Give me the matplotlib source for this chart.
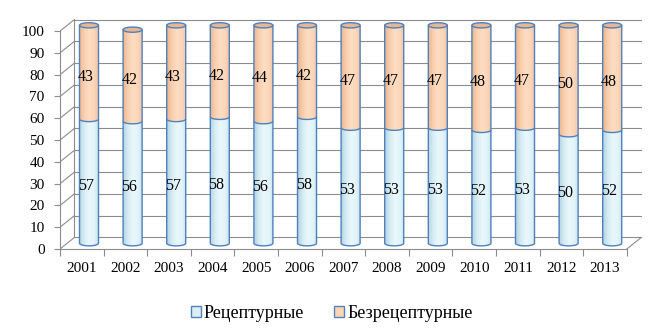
import numpy as np
import matplotlib
matplotlib.use('Agg')
import matplotlib.pyplot as plt
from matplotlib.path import Path
from matplotlib.patches import PathPatch, Ellipse, Patch
from matplotlib.colors import LinearSegmentedColormap

# ---- data ----
years = ['2001', '2002', '2003', '2004', '2005', '2006', '2007',
         '2008', '2009', '2010', '2011', '2012', '2013']
rx_values = [57, 56, 57, 58, 56, 58, 53, 53, 53, 52, 53, 50, 52]     # Рецептурные
otc_values = [43, 42, 43, 42, 44, 42, 47, 47, 47, 48, 47, 50, 48]    # Безрецептурные
series_names = ['Рецептурные', 'Безрецептурные']
y_ticks = [0, 10, 20, 30, 40, 50, 60, 70, 80, 90, 100]

# ---- style ----
FONT = 'Liberation Serif'
GRID = '#8C8C8C'
EDGE = '#4F81BD'
DX, DY = 0.33, 5.3        # depth offset of back wall (category units, value units)
RX, RY = 0.218, 1.2       # cylinder radii
blue_cmap = LinearSegmentedColormap.from_list(
    'b', ['#B3D3E3', '#D6ECF4', '#EAF8FC', '#E2F4FA', '#C6E2ED'])
orange_cmap = LinearSegmentedColormap.from_list(
    'o', ['#EDB58C', '#F8CFAF', '#FDDDC3', '#FBD7BA', '#F2C29F'])
blue_face = '#DBEEF4'
orange_face = '#FCD5B5'
cap_color = '#E8B690'

n = len(years)
fig = plt.figure(figsize=(6.58, 3.36), dpi=100)
ax = fig.add_axes([0.0912, 0.2589, 0.8846, 0.6875])
ax.set_xlim(-0.5, n - 0.5 + DX + 0.02)
ax.set_ylim(0, 106)

# ---- back wall, side wall and floor ----
x_left, x_right = -0.5, n - 0.5
for v in y_ticks:
    ax.plot([x_left + DX, x_right + DX], [v + DY, v + DY], color=GRID, lw=0.8, zorder=1)
    ax.plot([x_left, x_left + DX], [v, v + DY], color=GRID, lw=0.8, zorder=1)
ax.plot([x_left + DX, x_left + DX], [DY, y_ticks[-1] + DY], color=GRID, lw=0.8, zorder=1)
ax.plot([x_right, x_right + DX], [0, DY], color=GRID, lw=0.8, zorder=1)

# ---- cylinders ----
def segment(xc, b, t, cmap, z):
    x0, x1 = xc - RX, xc + RX
    th = np.linspace(np.pi, 2 * np.pi, 40)
    arc = np.column_stack([xc + RX * np.cos(th), b + RY * np.sin(th)])
    verts = np.vstack([[x0, t], arc, [x1, t], [x0, t]])
    codes = [Path.MOVETO] + [Path.LINETO] * (len(verts) - 2) + [Path.CLOSEPOLY]
    clip = PathPatch(Path(verts, codes), facecolor='none', edgecolor='none')
    ax.add_patch(clip)
    grad = np.linspace(0, 1, 256).reshape(1, -1)
    im = ax.imshow(grad, cmap=cmap, extent=(x0, x1, b - RY, t), aspect='auto',
                   origin='lower', zorder=z, interpolation='bilinear')
    im.set_clip_path(clip)
    outline = np.vstack([[x0, t], arc, [x1, t]])
    ax.add_patch(PathPatch(Path(outline), fill=False, edgecolor=EDGE, lw=1.0, zorder=z + 0.1))

for i in range(n):
    xc = i + DX / 2
    base = DY / 2
    b1 = base + rx_values[i]
    b2 = b1 + otc_values[i]
    segment(xc, base, b1, blue_cmap, 3)
    segment(xc, b1, b2, orange_cmap, 4)
    ax.add_patch(Ellipse((xc, b2), 2 * RX, 2 * RY, facecolor=cap_color,
                         edgecolor=EDGE, lw=1.0, zorder=5))
    ax.text(i + 0.09, rx_values[i] / 2 + 0.5, str(rx_values[i]), ha='center', va='center',
            fontsize=11.5, family=FONT, zorder=10)
    ax.text(i + 0.09, rx_values[i] + otc_values[i] / 2 + 0.5, str(otc_values[i]),
            ha='center', va='center', fontsize=11.5, family=FONT, zorder=10)

ax.set_xlim(-0.5, n - 0.5 + DX + 0.02)
ax.set_ylim(0, 106)

# ---- axes ----
for s in ['top', 'right']:
    ax.spines[s].set_visible(False)
for s in ['left', 'bottom']:
    ax.spines[s].set_color(GRID)
    ax.spines[s].set_linewidth(0.8)
ax.spines['left'].set_bounds(0, 100)
ax.spines['bottom'].set_bounds(x_left, x_right)

ax.set_yticks(y_ticks)
ax.set_yticklabels([str(v) for v in y_ticks], fontsize=11, family=FONT)
ax.tick_params(axis='y', length=4, color=GRID, pad=7)

ax.set_xticks(np.arange(n + 1) - 0.5)
ax.set_xticklabels([])
ax.tick_params(axis='x', which='major', length=5, color=GRID)
ax.set_xticks(np.arange(n), minor=True)
ax.set_xticklabels(years, minor=True, fontsize=11, family=FONT)
ax.tick_params(axis='x', which='minor', length=0, pad=9)
ax.patch.set_visible(False)

# ---- legend ----
handles = [Patch(facecolor=blue_face, edgecolor=EDGE, lw=1.0),
           Patch(facecolor=orange_face, edgecolor=EDGE, lw=1.0)]
fig.legend(handles, series_names, loc='center', bbox_to_anchor=(0.504, 0.068), ncol=2,
           frameon=False, handlelength=0.55, handleheight=0.55, handletextpad=0.17,
           columnspacing=1.66, prop={'family': FONT, 'size': 13})

fig.savefig('out.png', dpi=100)
